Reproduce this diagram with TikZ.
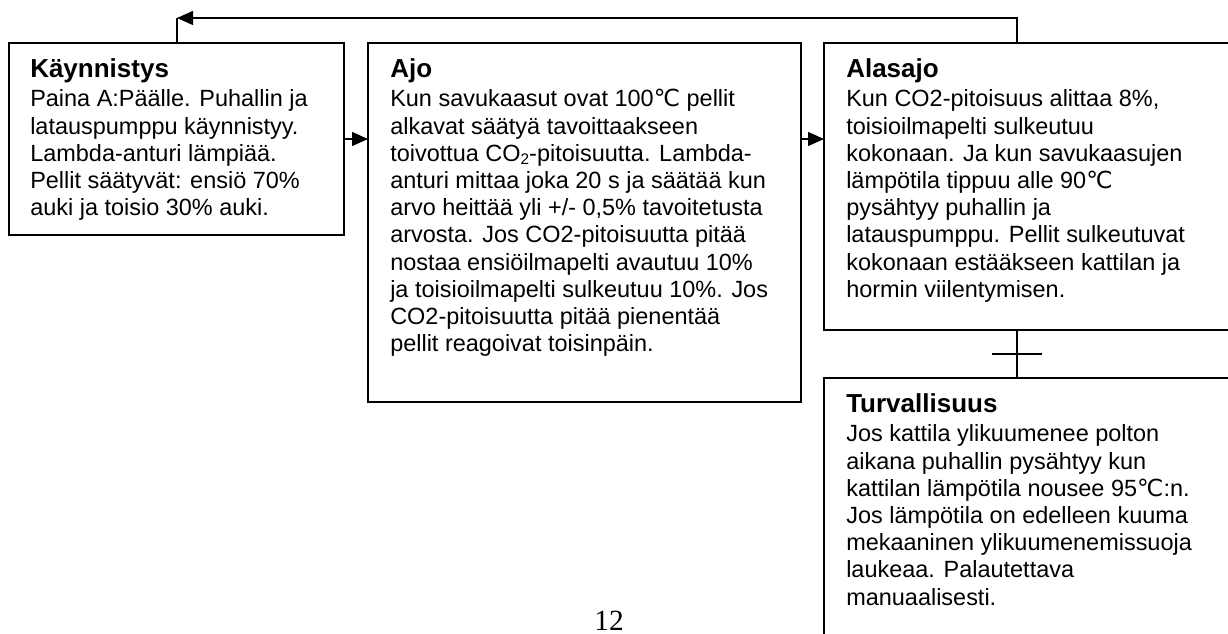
\documentclass[tikz,border=0pt]{standalone}
\usepackage{fontspec}
\setmainfont{Liberation Sans}
\newfontfamily\pagefont{Liberation Serif}
\newfontfamily\symfont{DejaVu Sans}
\usetikzlibrary{arrows.meta}
\newcommand{\degC}{{\symfont ℃}}
\newcommand{\fstrut}{\rule{0pt}{17pt}}
\newcommand{\subtwo}{\raisebox{-2.2pt}{\fontsize{11.5}{11.5}\selectfont 2}}
\tikzset{
  box/.style={draw, line width=0.9pt, inner sep=0pt, outer sep=0pt, anchor=north west},
  ttl/.style={inner sep=0pt, anchor=base west, font=\fontsize{19.5}{22}\selectfont\bfseries},
  body/.style={inner sep=0pt, anchor=north west, align=left, font=\fontsize{17.6}{20.4}\selectfont},
  conn/.style={line width=1pt},
  arr/.style={-{Triangle[length=12pt,width=10.5pt]}}
}
\begin{document}
\begin{tikzpicture}[x=0.75pt,y=-0.75pt]
\useasboundingbox (0,0) rectangle (1228,634);
\clip (0,0) rectangle (1228,634);
% boxes
\node[box, minimum width=251.25pt, minimum height=144pt] (b1) at (9,43) {};
\node[box, minimum width=324.75pt, minimum height=269.25pt] (b2) at (368,43) {};
\node[box, minimum width=315pt, minimum height=215.25pt] (b3) at (824,43) {};
\node[box, minimum width=315pt, minimum height=210pt] (b4) at (824,378) {};
% texts
\node[ttl] (t1) at (30,78) {Käynnistys};
\node[body] (d1) at (30,84) {\fstrut Paina A:Päälle. Puhallin ja\\
latauspumppu käynnistyy.\\
Lambda-anturi lämpiää.\\
Pellit säätyvät: ensiö 70\%\\
auki ja toisio 30\% auki.};
\node[ttl] (t2) at (390,78) {Ajo};
\node[body] (d2) at (390,84) {\fstrut Kun savukaasut ovat 100\degC{} pellit\\
alkavat säätyä tavoittaakseen\\
toivottua CO\subtwo-pitoisuutta. Lambda-\\
anturi mittaa joka 20 s ja säätää kun\\
arvo heittää yli +/- 0,5\% tavoitetusta\\
arvosta. Jos CO2-pitoisuutta pitää\\
nostaa ensiöilmapelti avautuu 10\%\\
ja toisioilmapelti sulkeutuu 10\%. Jos\\
CO2-pitoisuutta pitää pienentää\\
pellit reagoivat toisinpäin.};
\node[ttl] (t3) at (846,78) {Alasajo};
\node[body] (d3) at (846,84) {\fstrut Kun CO2-pitoisuus alittaa 8\%,\\
toisioilmapelti sulkeutuu\\
kokonaan. Ja kun savukaasujen\\
lämpötila tippuu alle 90\degC\\
pysähtyy puhallin ja\\
latauspumppu. Pellit sulkeutuvat\\
kokonaan estääkseen kattilan ja\\
hormin viilentymisen.};
\node[ttl] (t4) at (846,413) {Turvallisuus};
\node[body] (d4) at (846,419) {\fstrut Jos kattila ylikuumenee polton\\
aikana puhallin pysähtyy kun\\
kattilan lämpötila nousee 95\degC:n.\\
Jos lämpötila on edelleen kuuma\\
mekaaninen ylikuumenemissuoja\\
laukeaa. Palautettava\\
manuaalisesti.};
% page number
\node[inner sep=0pt, anchor=base, font=\pagefont\fontsize{22}{24}\selectfont] (pg) at (609,630) {12};
% connectors
\coordinate (ry) at (0,139);
\coordinate (fbR) at (1017,18);
\coordinate (fbL) at (177,18);
\draw[conn,arr] (b1.east |- ry) -- (b2.west |- ry);
\draw[conn,arr] (b2.east |- ry) -- (b3.west |- ry);
\draw[conn,arr] (b3.north -| fbR) -- (fbR) -- (fbL);
\draw[conn] (fbL) -- (b1.north -| fbL);
\draw[conn] (b3.south -| fbR) -- (b4.north -| fbR);
\draw[conn] (992,354) -- (1042,354);
\end{tikzpicture}
\end{document}
